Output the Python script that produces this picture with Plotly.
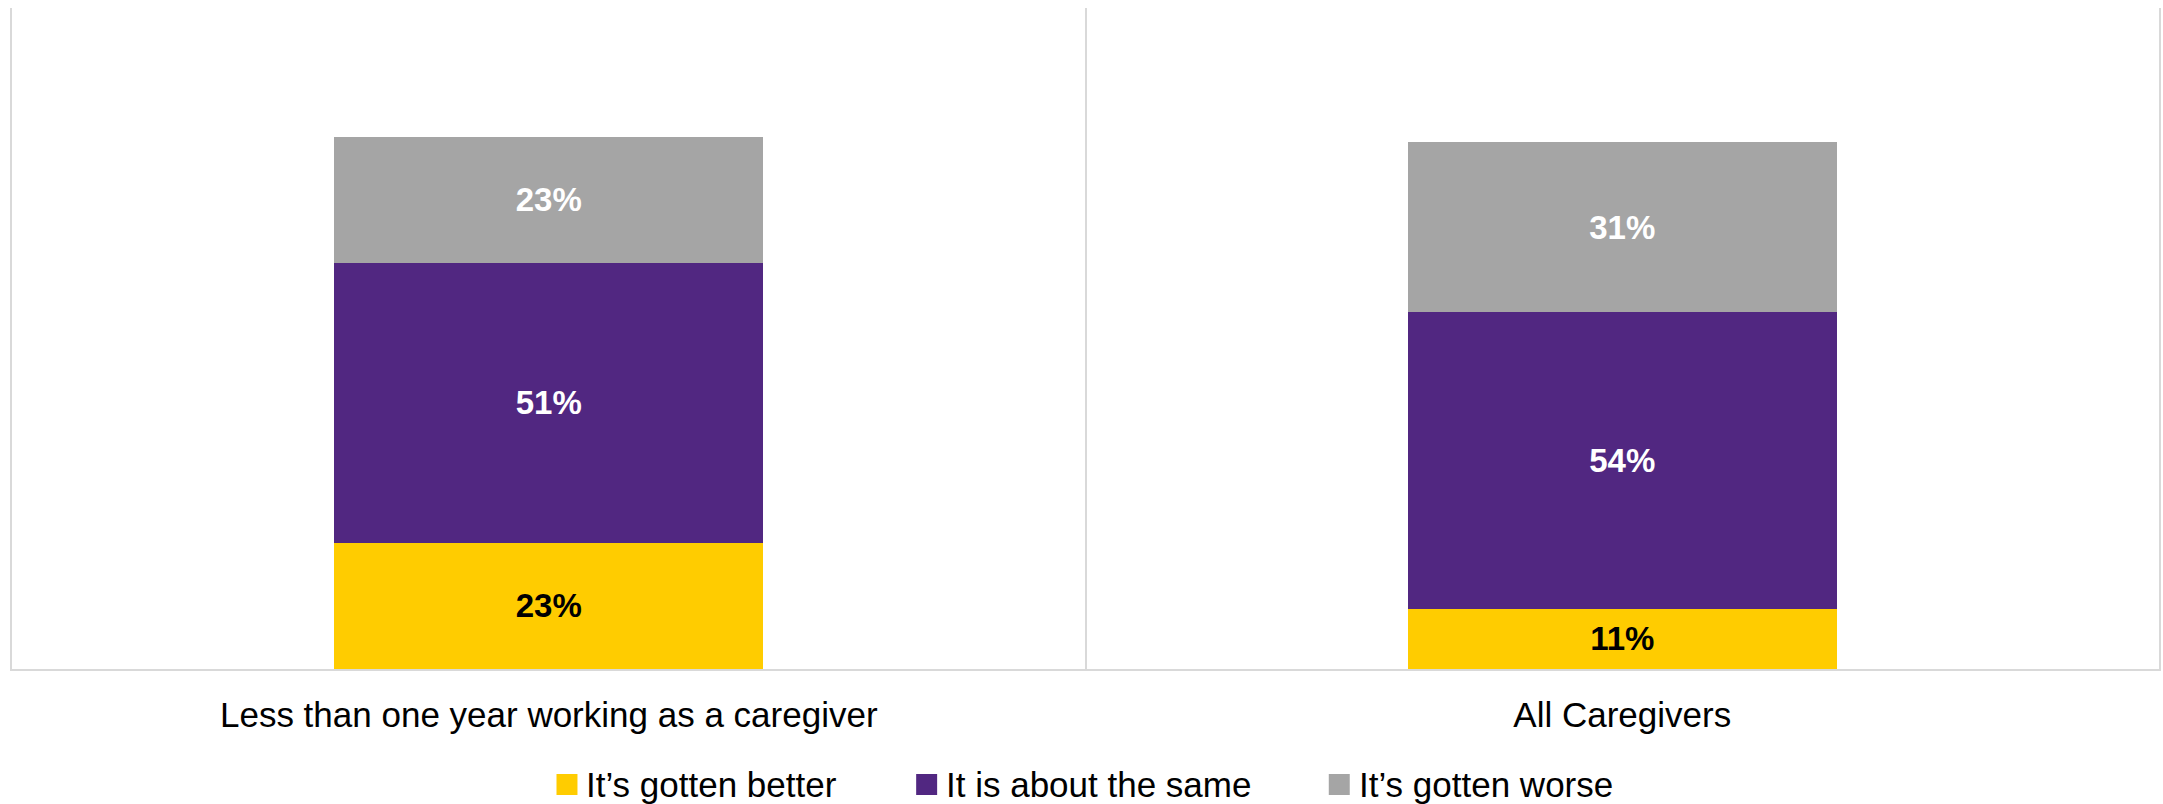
import plotly.graph_objects as go

# ---- data ----
categories = ["Less than one year working as a caregiver", "All Caregivers"]
series_names = ["It’s gotten better", "It is about the same", "It’s gotten worse"]
better = [23, 11]
same = [51, 54]
worse = [23, 31]
series_values = [better, same, worse]
series_colors = ["#FFCC00", "#512781", "#A5A5A5"]
label_colors = ["#000000", "#FFFFFF", "#FFFFFF"]

# ---- canvas / layout geometry (pixels) ----
W, H = 2163, 804
ML, MR, MT, MB = 12, 2, 8, 135
plot_w = W - ML - MR
plot_h = H - MT - MB

def px_to_paper_x(px):
    return (px - ML) / plot_w

def px_to_paper_y(py):
    return (H - MB - py) / plot_h

fig = go.Figure()
for name, vals, col, tcol in zip(series_names, series_values, series_colors, label_colors):
    fig.add_trace(go.Bar(
        x=categories, y=vals, name=name,
        marker=dict(color=col, line=dict(width=0)),
        text=[f"{v}%" for v in vals],
        textposition="inside", insidetextanchor="middle", textangle=0,
        textfont=dict(family="Liberation Sans, Arial, sans-serif", size=33, color=tcol, weight="bold"),
        showlegend=False,
        hoverinfo="skip",
    ))

# custom legend (swatches + labels)
legend_left_px = [557, 917, 1330]
sw = 21
sw_top = 774
shapes = []
annotations = []
for name, col, lx in zip(series_names, series_colors, legend_left_px):
    shapes.append(dict(
        type="rect", xref="paper", yref="paper",
        x0=px_to_paper_x(lx), x1=px_to_paper_x(lx + sw),
        y0=px_to_paper_y(sw_top + sw), y1=px_to_paper_y(sw_top),
        fillcolor=col, line=dict(width=0),
    ))
    annotations.append(dict(
        xref="paper", yref="paper",
        x=px_to_paper_x(lx + 29), y=px_to_paper_y(sw_top + sw / 2),
        xanchor="left", yanchor="middle", showarrow=False,
        borderpad=0,
        text=name,
        font=dict(family="Liberation Sans, Arial, sans-serif", size=35, color="#000000"),
    ))

fig.update_layout(
    width=W, height=H,
    margin=dict(l=ML, r=MR, t=MT, b=MB, pad=0),
    paper_bgcolor="white", plot_bgcolor="white",
    barmode="stack", bargap=0.6,
    shapes=shapes, annotations=annotations,
    showlegend=False,
    xaxis=dict(
        type="category", tickson="boundaries",
        showgrid=True, gridcolor="#D9D9D9", gridwidth=2,
        showline=True, linecolor="#D9D9D9", linewidth=2,
        ticks="", ticklabelstandoff=14,
        tickfont=dict(family="Liberation Sans, Arial, sans-serif", size=35, color="#000000"),
        range=[-0.5, 1.5], zeroline=False,
    ),
    yaxis=dict(
        range=[0, 120.5], showgrid=False, zeroline=False,
        showticklabels=False, ticks="",
        showline=True, mirror=True, linecolor="#D9D9D9", linewidth=2,
    ),
)

fig.write_html("out.html")
